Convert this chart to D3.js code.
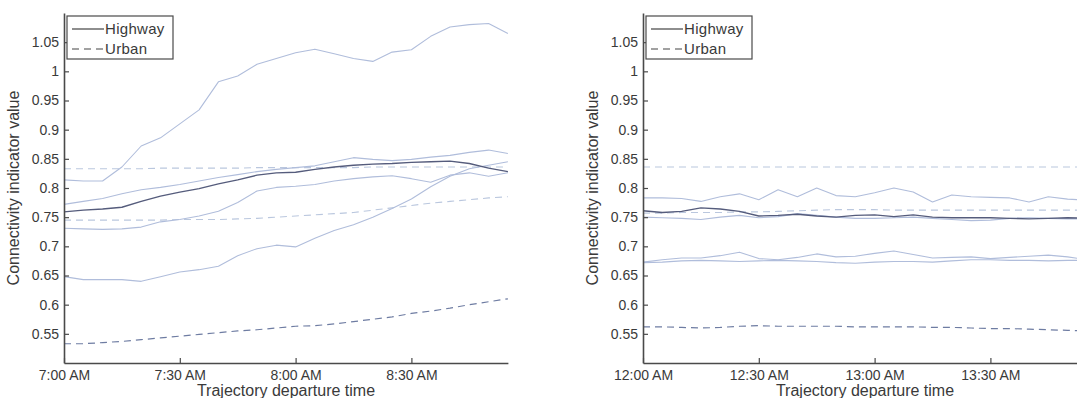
<!DOCTYPE html>
<html>
<head>
<meta charset="utf-8">
<script src="https://cdn.jsdelivr.net/npm/d3@7"></script>
<style>
  body { margin: 0; background: #fff; }
  text { font-family: "Liberation Sans", Arial, sans-serif; fill: #3a3a3a; }
</style>
</head>
<body>
<div id="chart"></div>
<script>
// departure time, minutes after the first tick
const minutes = [0, 5, 10, 15, 20, 25, 30, 35, 40, 45, 50, 55, 60, 65, 70, 75, 80, 85, 90, 95, 100, 105, 110, 115];

const yTicks = [0.55, 0.6, 0.65, 0.7, 0.75, 0.8, 0.85, 0.9, 0.95, 1, 1.05];
const xTickMinutes = [0, 30, 60, 90];
const amTickLabels = ['7:00 AM', '7:30 AM', '8:00 AM', '8:30 AM'];
const noonTickLabels = ['12:00 AM', '12:30 AM', '13:00 AM', '13:30 AM'];

// morning peak
const amHighwayTop = [0.814, 0.812, 0.812, 0.836, 0.872, 0.886, 0.91, 0.934, 0.982, 0.992, 1.012, 1.022, 1.032, 1.038, 1.03, 1.022, 1.017, 1.033, 1.037, 1.06, 1.076, 1.08, 1.082, 1.065];
const amHighwayUpper = [0.772, 0.777, 0.782, 0.79, 0.797, 0.801, 0.806, 0.812, 0.818, 0.823, 0.828, 0.832, 0.835, 0.838, 0.845, 0.852, 0.849, 0.847, 0.849, 0.853, 0.856, 0.861, 0.865, 0.859];
const amHighwayMain = [0.759, 0.762, 0.764, 0.767, 0.777, 0.786, 0.793, 0.799, 0.807, 0.814, 0.822, 0.826, 0.827, 0.832, 0.836, 0.839, 0.841, 0.842, 0.844, 0.845, 0.846, 0.842, 0.834, 0.828];
const amHighwayMid = [0.731, 0.73, 0.729, 0.73, 0.733, 0.742, 0.746, 0.752, 0.76, 0.775, 0.795, 0.801, 0.803, 0.806, 0.812, 0.816, 0.819, 0.821, 0.816, 0.81, 0.822, 0.826, 0.82, 0.826];
const amHighwayLow = [0.648, 0.643, 0.643, 0.643, 0.64, 0.648, 0.656, 0.66, 0.666, 0.684, 0.696, 0.702, 0.699, 0.714, 0.727, 0.737, 0.75, 0.765, 0.781, 0.802, 0.82, 0.833, 0.839, 0.845];
const amUrbanTop = [0.833, 0.833, 0.833, 0.833, 0.833, 0.834, 0.834, 0.834, 0.834, 0.834, 0.835, 0.835, 0.835, 0.835, 0.835, 0.835, 0.836, 0.836, 0.836, 0.836, 0.836, 0.836, 0.836, 0.836];
const amUrbanMid = [0.745, 0.745, 0.745, 0.745, 0.745, 0.745, 0.746, 0.746, 0.746, 0.747, 0.748, 0.75, 0.752, 0.754, 0.756, 0.758, 0.762, 0.766, 0.77, 0.774, 0.777, 0.78, 0.783, 0.785];
const amUrbanMain = [0.533, 0.533, 0.535, 0.537, 0.54, 0.543, 0.546, 0.549, 0.552, 0.555, 0.557, 0.56, 0.563, 0.564, 0.567, 0.571, 0.575, 0.579, 0.585, 0.589, 0.594, 0.6, 0.605, 0.61];

// midday
const noonHighwayTop = [0.783, 0.783, 0.782, 0.777, 0.785, 0.79, 0.78, 0.797, 0.785, 0.8, 0.787, 0.785, 0.792, 0.8, 0.793, 0.776, 0.788, 0.785, 0.784, 0.783, 0.776, 0.785, 0.781, 0.779];
const noonHighwayMain = [0.761, 0.758, 0.76, 0.766, 0.764, 0.76, 0.752, 0.753, 0.755, 0.752, 0.75, 0.753, 0.754, 0.751, 0.754, 0.75, 0.749, 0.749, 0.749, 0.748, 0.747, 0.748, 0.749, 0.748];
const noonHighwayMid = [0.75, 0.749, 0.748, 0.746, 0.75, 0.753, 0.749, 0.751, 0.756, 0.753, 0.75, 0.748, 0.748, 0.749, 0.75, 0.748, 0.746, 0.744, 0.745, 0.748, 0.749, 0.748, 0.747, 0.747];
const noonHighwayLowA = [0.673, 0.677, 0.68, 0.68, 0.684, 0.69, 0.679, 0.677, 0.681, 0.687, 0.682, 0.683, 0.688, 0.692, 0.686, 0.68, 0.681, 0.682, 0.679, 0.681, 0.683, 0.685, 0.682, 0.677];
const noonHighwayLowB = [0.672, 0.673, 0.675, 0.676, 0.675, 0.674, 0.675, 0.676, 0.675, 0.674, 0.672, 0.671, 0.673, 0.674, 0.674, 0.673, 0.675, 0.677, 0.677, 0.676, 0.676, 0.675, 0.676, 0.676];
const noonUrbanTop = [0.836, 0.836, 0.836, 0.836, 0.836, 0.836, 0.836, 0.836, 0.836, 0.836, 0.836, 0.836, 0.836, 0.836, 0.836, 0.836, 0.836, 0.836, 0.836, 0.836, 0.836, 0.836, 0.836, 0.836];
const noonUrbanMid = [0.757, 0.757, 0.758, 0.758, 0.758, 0.759, 0.759, 0.76, 0.761, 0.762, 0.763, 0.763, 0.763, 0.762, 0.762, 0.762, 0.762, 0.762, 0.762, 0.762, 0.762, 0.762, 0.762, 0.762];
const noonUrbanMain = [0.562, 0.562, 0.561, 0.56, 0.561, 0.563, 0.564, 0.563, 0.563, 0.563, 0.563, 0.562, 0.562, 0.562, 0.562, 0.561, 0.561, 0.56, 0.559, 0.559, 0.558, 0.557, 0.556, 0.555];

const lightSolid = '#b0bddb';
const lightDash = '#bac7de';
const darkSolid = '#555c7c';
const darkDash = '#6e7ca2';

const panels = [
  {
    left: 64,
    tickLabels: amTickLabels,
    series: [
      { values: amUrbanTop, color: lightDash, dash: true, w: 1.1 },
      { values: amUrbanMid, color: lightDash, dash: true, w: 1.1 },
      { values: amHighwayTop, color: lightSolid, w: 1.1 },
      { values: amHighwayUpper, color: lightSolid, w: 1.1 },
      { values: amHighwayMid, color: lightSolid, w: 1.1 },
      { values: amHighwayLow, color: lightSolid, w: 1.1 },
      { values: amHighwayMain, color: darkSolid, w: 1.4 },
      { values: amUrbanMain, color: darkDash, dash: true, w: 1.2 }
    ]
  },
  {
    left: 643,
    tickLabels: noonTickLabels,
    series: [
      { values: noonUrbanTop, color: lightDash, dash: true, w: 1.1 },
      { values: noonUrbanMid, color: lightDash, dash: true, w: 1.1 },
      { values: noonHighwayTop, color: lightSolid, w: 1.1 },
      { values: noonHighwayMid, color: lightSolid, w: 1.1 },
      { values: noonHighwayLowA, color: lightSolid, w: 1.1 },
      { values: noonHighwayLowB, color: lightSolid, w: 1.1 },
      { values: noonHighwayMain, color: darkSolid, w: 1.4 },
      { values: noonUrbanMain, color: darkDash, dash: true, w: 1.2 }
    ]
  }
];

const W = 1077, H = 398;
const plotTop = 13, plotBottom = 363;
const pxPerMinute = 3.86;
const axisColor = '#4a4a4a';

const svg = d3.select('#chart').append('svg').attr('width', W).attr('height', H);

const y = d3.scaleLinear().domain([0.5, 1.1]).range([plotBottom, plotTop]);

panels.forEach((p) => {
  const x = d3.scaleLinear().domain([0, 115]).range([p.left, p.left + 115 * pxPerMinute]);
  const g = svg.append('g');

  // lines first, axes on top
  const line = d3.line()
    .x((d, i) => x(minutes[i]))
    .y((d) => y(d));

  g.selectAll('path.series')
    .data(p.series)
    .enter()
    .append('path')
    .attr('class', 'series')
    .attr('d', (s) => line(s.values))
    .attr('fill', 'none')
    .attr('stroke', (s) => s.color)
    .attr('stroke-width', (s) => s.w)
    .attr('stroke-linejoin', 'round')
    .attr('stroke-dasharray', (s) => (s.dash ? '7,5' : null));

  const yAxis = g.append('g')
    .attr('transform', `translate(${p.left},0)`)
    .call(d3.axisLeft(y).tickValues(yTicks).tickSize(-5).tickSizeOuter(0).tickPadding(5)
      .tickFormat((d) => String(+d.toFixed(2))));

  const xAxis = g.append('g')
    .attr('transform', `translate(0,${plotBottom})`)
    .call(d3.axisBottom(x).tickValues(xTickMinutes).tickSize(-5).tickSizeOuter(0).tickPadding(7)
      .tickFormat((d, i) => p.tickLabels[i]));

  [yAxis, xAxis].forEach((a) => {
    a.select('.domain').attr('stroke', axisColor).attr('stroke-width', 1.6);
    a.selectAll('.tick line').attr('stroke', axisColor).attr('stroke-width', 1.2);
    a.selectAll('.tick text').attr('fill', '#3a3a3a').style('font-size', '14px');
  });

  // axis titles
  g.append('text')
    .attr('x', p.left + 222)
    .attr('y', 396)
    .attr('text-anchor', 'middle')
    .style('font-size', '16px')
    .text('Trajectory departure time');

  g.append('text')
    .attr('transform', `translate(${p.left - 45},${(plotTop + plotBottom) / 2}) rotate(-90)`)
    .attr('text-anchor', 'middle')
    .style('font-size', '16px')
    .text('Connectivity indicator value');

  // legend
  const lg = g.append('g').attr('transform', `translate(${p.left + 3},16)`);
  lg.append('rect')
    .attr('width', 106).attr('height', 43)
    .attr('fill', '#fff').attr('stroke', axisColor).attr('stroke-width', 1.2);
  const items = [
    { label: 'Highway', dash: false, yy: 13 },
    { label: 'Urban', dash: true, yy: 33 }
  ];
  items.forEach((it) => {
    lg.append('line')
      .attr('x1', 5).attr('x2', 37).attr('y1', it.yy).attr('y2', it.yy)
      .attr('stroke', '#444').attr('stroke-width', 1.2)
      .attr('stroke-dasharray', it.dash ? '7,5' : null);
    lg.append('text')
      .attr('x', 38).attr('y', it.yy + 5)
      .style('font-size', '15px')
      .style('letter-spacing', '0.3px')
      .text(it.label);
  });
});
</script>
</body>
</html>
